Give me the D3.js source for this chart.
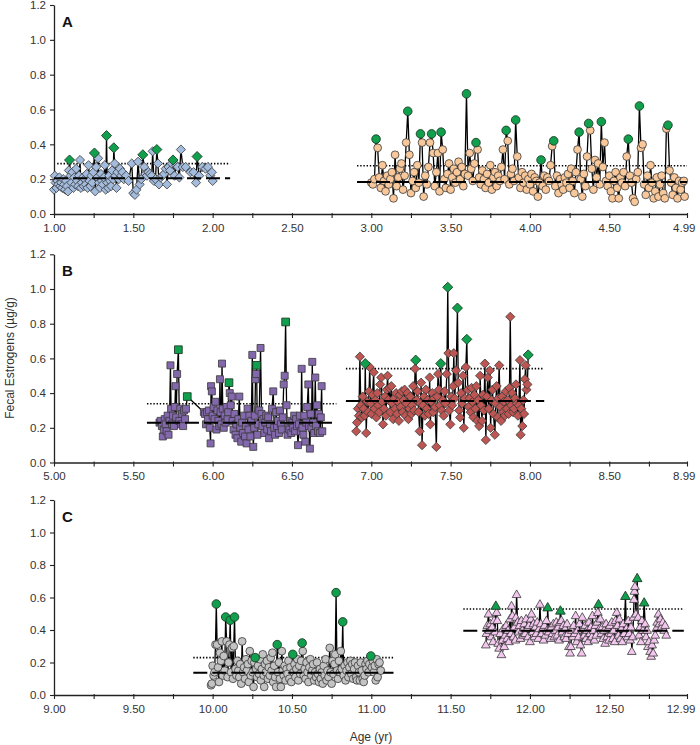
<!DOCTYPE html>
<html><head><meta charset="utf-8">
<script src="https://cdn.jsdelivr.net/npm/d3@7"></script>
<style>body{margin:0;background:#fff}text{font-family:"Liberation Sans",Arial,sans-serif}</style>
</head><body><svg id="chart" width="700" height="745"></svg>
<script>
// ---------- DATA ----------
const yTickValues = [0, 0.2, 0.4, 0.6, 0.8, 1.0, 1.2];
const panelLabels = ["A", "B", "C"];
const xStartA = 1.00, xStartB = 5.00, xStartC = 9.00;
const xTickLabelsA = ["1.00","1.50","2.00","2.50","3.00","3.50","4.00","4.50","4.99"];
const xTickLabelsB = ["5.00","5.50","6.00","6.50","7.00","7.50","8.00","8.50","8.99"];
const xTickLabelsC = ["9.00","9.50","10.00","10.50","11.00","11.50","12.00","12.50","12.99"];
const yTitle = "Fecal Estrogens (\u00b5g/g)";
const xTitle = "Age (yr)";

// [age, value, peak(1 = green)]
const seriesA1 = [
[1.000,0.14],[1.005,0.22],[1.010,0.18],[1.016,0.15],[1.022,0.19],[1.028,0.17],[1.034,0.21],[1.040,0.16],[1.046,0.18],[1.052,0.15],
[1.058,0.20],[1.064,0.17],[1.070,0.14],[1.076,0.19],[1.082,0.16],[1.088,0.13],[1.094,0.25],[1.098,0.31,1],[1.104,0.22],[1.110,0.18],
[1.116,0.24],[1.122,0.15],[1.128,0.21],[1.134,0.17],[1.140,0.26],[1.146,0.19],[1.152,0.16],[1.158,0.22],[1.164,0.31],[1.170,0.15],
[1.176,0.18],[1.182,0.21],[1.188,0.16],[1.194,0.20],[1.200,0.17],[1.206,0.23],[1.212,0.15],[1.218,0.28],[1.224,0.19],[1.230,0.16],
[1.236,0.22],[1.242,0.18],[1.248,0.24],[1.255,0.35,1],[1.260,0.13],[1.266,0.27],[1.272,0.21],[1.278,0.32],[1.284,0.18],[1.290,0.15],
[1.296,0.23],[1.302,0.19],[1.308,0.17],[1.314,0.21],[1.320,0.28],[1.326,0.14],[1.331,0.45,1],[1.336,0.18],[1.342,0.15],[1.348,0.22],
[1.354,0.19],[1.360,0.16],[1.366,0.25],[1.372,0.20],[1.377,0.38,1],[1.382,0.29],[1.388,0.22],[1.394,0.15],[1.400,0.24],[1.408,0.20],
[1.416,0.26],[1.424,0.22],[1.432,0.24],[1.440,0.20],[1.455,0.22],[1.470,0.19],[1.490,0.29],[1.500,0.12],[1.510,0.11],[1.520,0.14],
[1.530,0.30],[1.540,0.17],[1.550,0.20],[1.560,0.34,1],[1.568,0.27],[1.576,0.23],[1.586,0.22],[1.596,0.24],[1.606,0.23],[1.616,0.22],
[1.622,0.36],[1.630,0.19],[1.640,0.20],[1.648,0.37,1],[1.655,0.29],[1.662,0.17],[1.672,0.21],[1.684,0.22],[1.694,0.23],[1.704,0.26],
[1.712,0.17],[1.722,0.27],[1.732,0.25],[1.742,0.29],[1.750,0.31,1],[1.760,0.22],[1.770,0.28],[1.780,0.27],[1.790,0.21],[1.800,0.37],
[1.812,0.27],[1.830,0.27],[1.860,0.24],[1.880,0.24],[1.895,0.18],[1.902,0.33,1],[1.915,0.22],[1.935,0.27],[1.955,0.26],[1.970,0.27],
[1.985,0.22],[1.995,0.24],[2.000,0.19]
];
const seriesA2 = [
[3.00,0.18],[3.01,0.17],[3.02,0.20],[3.03,0.43,1],[3.04,0.38],[3.05,0.21],[3.06,0.15],[3.07,0.28],[3.08,0.19],[3.09,0.13],
[3.10,0.22],[3.11,0.17],[3.12,0.20],[3.13,0.24],[3.14,0.09],[3.15,0.34],[3.16,0.16],[3.17,0.21],[3.18,0.26],[3.19,0.29],
[3.20,0.14],[3.21,0.22],[3.22,0.41],[3.23,0.59,1],[3.24,0.34],[3.25,0.12],[3.26,0.19],[3.27,0.24],[3.28,0.15],[3.29,0.28],
[3.30,0.18],[3.31,0.46,1],[3.32,0.41],[3.33,0.10],[3.34,0.22],[3.35,0.17],[3.36,0.27],[3.37,0.41],[3.38,0.46,1],[3.39,0.35],
[3.40,0.16],[3.41,0.24],[3.42,0.35],[3.43,0.13],[3.44,0.47,1],[3.45,0.37],[3.46,0.20],[3.47,0.15],[3.48,0.23],[3.49,0.29],
[3.50,0.14],[3.51,0.21],[3.52,0.26],[3.53,0.18],[3.54,0.24],[3.55,0.30],[3.56,0.20],[3.57,0.27],[3.58,0.16],[3.59,0.23],
[3.60,0.69,1],[3.61,0.22],[3.62,0.35],[3.63,0.26],[3.64,0.19],[3.65,0.29],[3.66,0.41,1],[3.67,0.37],[3.68,0.21],[3.69,0.17],
[3.70,0.25],[3.71,0.20],[3.72,0.15],[3.73,0.23],[3.74,0.18],[3.75,0.28],[3.76,0.14],[3.77,0.21],[3.78,0.24],[3.79,0.16],
[3.80,0.22],[3.81,0.19],[3.82,0.27],[3.83,0.37],[3.84,0.20],[3.85,0.48,1],[3.86,0.42],[3.87,0.17],[3.88,0.23],[3.89,0.26],
[3.90,0.19],[3.91,0.54,1],[3.92,0.33],[3.93,0.21],[3.94,0.15],[3.95,0.24],[3.96,0.18],[3.97,0.22],[3.98,0.14],[3.99,0.20],
[4.00,0.17],[4.01,0.23],[4.02,0.13],[4.03,0.21],[4.04,0.19],[4.05,0.10],[4.06,0.18],[4.07,0.31,1],[4.08,0.16],[4.09,0.22],
[4.10,0.14],[4.11,0.21],[4.12,0.19],[4.13,0.28],[4.14,0.39],[4.15,0.42,1],[4.16,0.16],[4.17,0.22],[4.18,0.12],[4.19,0.20],
[4.20,0.17],[4.21,0.14],[4.22,0.21],[4.23,0.18],[4.24,0.23],[4.25,0.15],[4.26,0.26],[4.27,0.19],[4.28,0.12],[4.29,0.24],
[4.30,0.37],[4.31,0.47,1],[4.32,0.20],[4.33,0.10],[4.34,0.23],[4.35,0.16],[4.36,0.33],[4.37,0.52,1],[4.38,0.48],[4.39,0.26],
[4.40,0.14],[4.41,0.31],[4.42,0.21],[4.43,0.29],[4.44,0.17],[4.45,0.53,1],[4.46,0.27],[4.47,0.41],[4.48,0.19],[4.49,0.16],
[4.50,0.22],[4.51,0.13],[4.52,0.09],[4.53,0.19],[4.54,0.24],[4.55,0.15],[4.56,0.09],[4.57,0.21],[4.58,0.18],[4.59,0.24],
[4.60,0.16],[4.61,0.33],[4.62,0.43,1],[4.63,0.22],[4.64,0.18],[4.65,0.09],[4.66,0.07],[4.67,0.20],[4.68,0.24],[4.69,0.62,1],
[4.70,0.38],[4.71,0.40],[4.72,0.17],[4.73,0.11],[4.74,0.22],[4.75,0.15],[4.76,0.28],[4.77,0.18],[4.78,0.09],[4.79,0.13],
[4.80,0.21],[4.81,0.10],[4.82,0.17],[4.83,0.22],[4.84,0.12],[4.85,0.09],[4.86,0.49],[4.87,0.51,1],[4.88,0.25],[4.89,0.18],
[4.90,0.11],[4.91,0.21],[4.92,0.15],[4.93,0.09],[4.94,0.19],[4.95,0.14],[4.96,0.18],[4.97,0.19],[4.975,0.10]
];
const seriesB1 = [
[5.665,0.23],[5.672,0.24],[5.680,0.21],[5.686,0.15],[5.692,0.19],[5.698,0.25],[5.704,0.22],[5.710,0.18],[5.716,0.27],[5.722,0.16],
[5.728,0.24],[5.734,0.56],[5.738,0.31],[5.744,0.22],[5.750,0.27],[5.756,0.21],[5.762,0.32],[5.766,0.44],[5.770,0.26],[5.776,0.51],
[5.784,0.65,1],[5.790,0.24],[5.796,0.31],[5.802,0.22],[5.808,0.28],[5.814,0.21],[5.820,0.30],[5.826,0.25],[5.832,0.31],[5.840,0.38,1],
[5.945,0.29],[5.952,0.28],[5.958,0.22],[5.964,0.29],[5.970,0.25],[5.976,0.30],[5.982,0.20],[5.987,0.11],[5.990,0.44],[5.995,0.41],
[6.000,0.27],[6.006,0.32],[6.012,0.25],[6.018,0.35],[6.024,0.19],[6.030,0.30],[6.036,0.24],[6.042,0.21],[6.046,0.48],[6.050,0.29],
[6.055,0.22],[6.059,0.57],[6.064,0.31],[6.070,0.20],[6.076,0.27],[6.082,0.23],[6.088,0.32],[6.094,0.25],[6.098,0.29],[6.103,0.46,1],
[6.108,0.40],[6.114,0.33],[6.120,0.38],[6.126,0.24],[6.132,0.19],[6.138,0.28],[6.144,0.16],[6.150,0.22],[6.156,0.14],[6.162,0.25],
[6.168,0.38],[6.174,0.20],[6.180,0.12],[6.186,0.23],[6.192,0.17],[6.198,0.27],[6.204,0.15],[6.210,0.21],[6.214,0.11],[6.220,0.31],
[6.226,0.19],[6.232,0.27],[6.238,0.15],[6.244,0.24],[6.250,0.62],[6.256,0.09],[6.262,0.20],[6.266,0.27],[6.270,0.48],[6.274,0.51],
[6.277,0.56,1],[6.282,0.16],[6.288,0.22],[6.294,0.30],[6.302,0.66],[6.308,0.28],[6.314,0.21],[6.320,0.25],[6.326,0.17],[6.332,0.23],
[6.338,0.27],[6.344,0.19],[6.350,0.26],[6.356,0.14],[6.362,0.22],[6.368,0.18],[6.374,0.31],[6.382,0.41],[6.388,0.20],[6.394,0.16],
[6.400,0.29],[6.406,0.21],[6.412,0.24],[6.418,0.17],[6.424,0.30],[6.430,0.22],[6.436,0.19],[6.442,0.26],[6.448,0.45],[6.454,0.50],
[6.460,0.81,1],[6.466,0.33],[6.472,0.16],[6.478,0.21],[6.484,0.19],[6.490,0.24],[6.496,0.17],[6.502,0.23],[6.508,0.20],[6.514,0.27],
[6.520,0.18],[6.526,0.25],[6.532,0.21],[6.538,0.10],[6.544,0.22],[6.550,0.27],[6.556,0.18],[6.561,0.54],[6.566,0.20],[6.572,0.16],
[6.578,0.27],[6.584,0.12],[6.590,0.23],[6.596,0.32],[6.603,0.45],[6.608,0.21],[6.613,0.08],[6.618,0.28],[6.623,0.20],[6.628,0.58],
[6.634,0.23],[6.640,0.17],[6.647,0.49],[6.652,0.21],[6.658,0.33],[6.664,0.18],[6.670,0.28],[6.676,0.17],[6.682,0.26],[6.687,0.44],
[6.691,0.18]
];
const seriesB2 = [
[6.905,0.18],[6.910,0.23],[6.916,0.31],[6.922,0.27],[6.928,0.61],[6.934,0.33],[6.940,0.26],[6.946,0.38],[6.952,0.31],[6.958,0.27],
[6.962,0.57,1],[6.968,0.17],[6.974,0.35],[6.980,0.29],[6.986,0.41],[6.990,0.55],[6.996,0.34],[7.002,0.28],[7.008,0.39],[7.015,0.52],
[7.020,0.31],[7.026,0.36],[7.032,0.26],[7.038,0.40],[7.044,0.33],[7.050,0.29],[7.056,0.45],[7.063,0.49],[7.068,0.35],[7.074,0.22],
[7.080,0.31],[7.086,0.38],[7.092,0.27],[7.098,0.42],[7.103,0.50],[7.108,0.36],[7.114,0.43],[7.120,0.29],[7.126,0.44],[7.132,0.34],
[7.138,0.25],[7.144,0.37],[7.150,0.31],[7.156,0.40],[7.162,0.28],[7.168,0.35],[7.174,0.24],[7.180,0.39],[7.186,0.32],[7.192,0.41],
[7.198,0.29],[7.204,0.36],[7.210,0.42],[7.216,0.27],[7.222,0.34],[7.228,0.40],[7.234,0.25],[7.240,0.31],[7.246,0.38],[7.252,0.28],
[7.258,0.33],[7.264,0.44],[7.270,0.30],[7.276,0.54],[7.280,0.59,1],[7.286,0.36],[7.292,0.41],[7.298,0.29],[7.305,0.18],[7.310,0.34],
[7.314,0.46],[7.320,0.10],[7.326,0.33],[7.332,0.38],[7.338,0.27],[7.344,0.42],[7.350,0.31],[7.356,0.36],[7.362,0.28],[7.368,0.49],
[7.372,0.22],[7.378,0.35],[7.384,0.40],[7.390,0.29],[7.396,0.37],[7.402,0.32],[7.410,0.09],[7.416,0.38],[7.421,0.51],[7.426,0.42],
[7.432,0.33],[7.438,0.57,1],[7.444,0.30],[7.450,0.36],[7.456,0.27],[7.462,0.41],[7.468,0.34],[7.476,0.51],[7.482,1.01,1],[7.486,0.63],
[7.492,0.30],[7.498,0.22],[7.504,0.38],[7.510,0.33],[7.516,0.44],[7.520,0.63],[7.526,0.37],[7.535,0.53],[7.543,0.89,1],[7.548,0.46],
[7.554,0.30],[7.560,0.26],[7.566,0.40],[7.572,0.34],[7.579,0.50],[7.583,0.20],[7.590,0.37],[7.596,0.55],[7.602,0.71,1],[7.608,0.42],
[7.614,0.32],[7.620,0.37],[7.626,0.29],[7.632,0.43],[7.638,0.35],[7.644,0.26],[7.650,0.39],[7.656,0.31],[7.662,0.44],[7.668,0.24],
[7.674,0.36],[7.680,0.21],[7.686,0.50],[7.692,0.33],[7.698,0.24],[7.704,0.39],[7.710,0.30],[7.716,0.57],[7.722,0.13],[7.728,0.38],
[7.734,0.49],[7.740,0.31],[7.747,0.53],[7.752,0.20],[7.758,0.36],[7.764,0.42],[7.770,0.28],[7.779,0.16],[7.784,0.34],[7.790,0.44],
[7.796,0.26],[7.800,0.37],[7.806,0.56],[7.812,0.32],[7.818,0.24],[7.824,0.38],[7.830,0.29],[7.836,0.35],[7.842,0.27],[7.848,0.41],
[7.854,0.31],[7.860,0.36],[7.866,0.28],[7.871,0.43],[7.876,0.84],[7.882,0.33],[7.888,0.40],[7.894,0.29],[7.900,0.31],[7.906,0.37],
[7.912,0.45],[7.918,0.34],[7.924,0.27],[7.930,0.33],[7.937,0.59],[7.941,0.16],[7.946,0.31],[7.952,0.21],[7.958,0.36],[7.963,0.28],
[7.968,0.48],[7.973,0.56],[7.978,0.42],[7.984,0.45],[7.989,0.62,1]
];
const seriesC1 = [
[9.990,0.06],[9.995,0.07],[10.000,0.18],[10.006,0.12],[10.012,0.14],[10.018,0.31],[10.023,0.56,1],[10.028,0.31],[10.034,0.17],[10.040,0.08],
[10.046,0.26],[10.052,0.21],[10.058,0.33],[10.064,0.12],[10.070,0.24],[10.076,0.15],[10.082,0.48,1],[10.088,0.33],[10.094,0.11],[10.100,0.20],
[10.106,0.31],[10.111,0.46,1],[10.116,0.14],[10.122,0.29],[10.128,0.10],[10.133,0.30],[10.138,0.48,1],[10.144,0.16],[10.150,0.12],[10.156,0.21],
[10.162,0.15],[10.168,0.11],[10.174,0.19],[10.180,0.07],[10.186,0.33],[10.192,0.14],[10.198,0.17],[10.204,0.10],[10.210,0.22],[10.216,0.15],
[10.222,0.19],[10.228,0.08],[10.234,0.27],[10.240,0.12],[10.246,0.21],[10.252,0.14],[10.258,0.05],[10.263,0.20],[10.268,0.23,1],[10.274,0.16],
[10.280,0.11],[10.286,0.18],[10.292,0.13],[10.298,0.22],[10.304,0.09],[10.310,0.16],[10.316,0.25],[10.322,0.12],[10.325,0.05],[10.330,0.19],
[10.336,0.14],[10.342,0.21],[10.348,0.10],[10.354,0.17],[10.360,0.12],[10.366,0.23],[10.372,0.15],[10.377,0.26],[10.382,0.08],[10.388,0.18],
[10.394,0.11],[10.400,0.05],[10.407,0.31,1],[10.412,0.14],[10.418,0.20],[10.424,0.10],[10.430,0.05],[10.436,0.27],[10.442,0.15],[10.448,0.12],
[10.454,0.18],[10.460,0.09],[10.466,0.16],[10.472,0.13],[10.478,0.21],[10.484,0.10],[10.490,0.17],[10.496,0.08],[10.505,0.25,1],[10.510,0.14],
[10.516,0.19],[10.522,0.11],[10.528,0.16],[10.534,0.22],[10.540,0.09],[10.546,0.18],[10.552,0.13],[10.558,0.21],[10.564,0.32,1],[10.568,0.27],
[10.574,0.12],[10.580,0.16],[10.586,0.10],[10.592,0.20],[10.598,0.14],[10.604,0.08],[10.610,0.17],[10.616,0.22],[10.622,0.12],[10.628,0.15],
[10.634,0.19],[10.640,0.09],[10.646,0.14],[10.652,0.11],[10.658,0.20],[10.664,0.13],[10.670,0.08],[10.676,0.16],[10.682,0.10],[10.688,0.14],
[10.694,0.07],[10.700,0.18],[10.706,0.12],[10.712,0.22],[10.718,0.09],[10.724,0.15],[10.730,0.11],[10.738,0.29],[10.744,0.14],[10.750,0.07],
[10.756,0.21],[10.762,0.13],[10.768,0.19],[10.773,0.25],[10.778,0.63,1],[10.784,0.15],[10.790,0.10],[10.796,0.21],[10.802,0.14],[10.808,0.27],
[10.814,0.16],[10.820,0.45,1],[10.826,0.12],[10.832,0.18],[10.838,0.09],[10.844,0.15],[10.850,0.20],[10.856,0.11],[10.862,0.17],[10.868,0.21],
[10.874,0.13],[10.880,0.19],[10.886,0.10],[10.892,0.16],[10.898,0.20],[10.904,0.11],[10.910,0.09],[10.916,0.18],[10.922,0.14],[10.928,0.09],
[10.934,0.20],[10.940,0.15],[10.946,0.10],[10.952,0.08],[10.958,0.12],[10.964,0.19],[10.970,0.16],[10.976,0.21],[10.982,0.14],[10.988,0.19],
[10.997,0.24,1],[11.004,0.17],[11.010,0.21],[11.016,0.14],[11.022,0.18],[11.028,0.09],[11.034,0.22],[11.040,0.11],[11.046,0.19],[11.052,0.20],
[11.060,0.15]
];
const seriesC2 = [
[11.722,0.31],[11.726,0.38],[11.732,0.43],[11.739,0.50],[11.745,0.40],[11.750,0.44],[11.756,0.36],[11.762,0.42],[11.768,0.33],[11.774,0.46],
[11.780,0.39],[11.785,0.55,1],[11.790,0.51],[11.794,0.46],[11.800,0.32],[11.806,0.29],[11.812,0.38],[11.820,0.25],[11.826,0.34],[11.832,0.41],
[11.838,0.30],[11.844,0.37],[11.850,0.43],[11.856,0.35],[11.862,0.40],[11.868,0.33],[11.874,0.47],[11.880,0.38],[11.884,0.55],[11.890,0.49],
[11.896,0.36],[11.902,0.42],[11.908,0.34],[11.912,0.48],[11.916,0.62],[11.922,0.45],[11.928,0.39],[11.934,0.43],[11.940,0.35],[11.946,0.46],
[11.952,0.40],[11.958,0.37],[11.964,0.44],[11.970,0.38],[11.976,0.47],[11.982,0.41],[11.988,0.36],[11.994,0.43],[12.000,0.33],[12.006,0.47],
[12.010,0.50],[12.016,0.39],[12.022,0.44],[12.028,0.36],[12.034,0.42],[12.040,0.38],[12.046,0.45],[12.052,0.35],[12.058,0.41],[12.063,0.56],
[12.068,0.44],[12.074,0.38],[12.080,0.41],[12.086,0.34],[12.092,0.43],[12.098,0.37],[12.104,0.46],[12.108,0.40],[12.112,0.54,1],[12.118,0.39],
[12.124,0.41],[12.130,0.35],[12.136,0.42],[12.142,0.38],[12.148,0.44],[12.154,0.36],[12.160,0.40],[12.166,0.45],[12.172,0.37],[12.178,0.42],
[12.184,0.34],[12.188,0.45],[12.192,0.52,1],[12.198,0.46],[12.204,0.39],[12.210,0.43],[12.216,0.36],[12.222,0.41],[12.228,0.35],[12.234,0.44],
[12.240,0.38],[12.246,0.30],[12.253,0.26],[12.258,0.30],[12.264,0.40],[12.270,0.36],[12.276,0.43],[12.282,0.38],[12.288,0.49],[12.294,0.33],
[12.300,0.40],[12.306,0.36],[12.312,0.44],[12.318,0.31],[12.326,0.26],[12.330,0.48],[12.336,0.41],[12.342,0.37],[12.348,0.43],[12.354,0.35],
[12.360,0.40],[12.366,0.33],[12.372,0.45],[12.378,0.38],[12.384,0.42],[12.390,0.36],[12.394,0.49],[12.400,0.40],[12.406,0.34],[12.412,0.43],
[12.418,0.37],[12.424,0.45],[12.428,0.51],[12.432,0.56,1],[12.438,0.41],[12.444,0.47],[12.450,0.38],[12.456,0.42],[12.462,0.35],[12.468,0.40],
[12.474,0.32],[12.480,0.44],[12.486,0.36],[12.492,0.41],[12.498,0.34],[12.504,0.43],[12.510,0.38],[12.516,0.45],[12.522,0.35],[12.528,0.40],
[12.534,0.33],[12.540,0.46],[12.547,0.51],[12.552,0.43],[12.558,0.37],[12.564,0.47],[12.570,0.35],[12.576,0.41],[12.582,0.33],[12.588,0.44],
[12.594,0.38],[12.602,0.61,1],[12.608,0.41],[12.614,0.36],[12.620,0.46],[12.626,0.38],[12.632,0.34],[12.637,0.42],[12.642,0.27],[12.648,0.36],
[12.653,0.48],[12.656,0.59],[12.659,0.64],[12.662,0.67],[12.668,0.50],[12.676,0.72,1],[12.682,0.48],[12.688,0.37],[12.694,0.42],[12.700,0.33],
[12.706,0.46],[12.712,0.40],[12.720,0.57,1],[12.726,0.44],[12.732,0.36],[12.738,0.40],[12.744,0.30],[12.750,0.33],[12.758,0.27],[12.764,0.24],
[12.770,0.31],[12.777,0.26],[12.783,0.34],[12.790,0.37],[12.796,0.41],[12.802,0.45],[12.810,0.50],[12.816,0.44],[12.822,0.47],[12.830,0.42],
[12.838,0.45],[12.846,0.40],[12.852,0.43],[12.859,0.37]
];
// baseline (dashed) and threshold (dotted): [value, fromAge, toAge]
const baselineA1 = [0.205, 1.00, 2.11],  thresholdA1 = [0.289, 1.02, 2.11];
const baselineA2 = [0.184, 2.91, 4.99],  thresholdA2 = [0.277, 2.91, 4.99];
const baselineB1 = [0.229, 5.586, 6.76], thresholdB1 = [0.339, 5.586, 6.78];
const baselineB2 = [0.354, 6.84, 8.09],  thresholdB2 = [0.541, 6.84, 8.08];
const baselineC1 = [0.137, 9.878, 11.14], thresholdC1 = [0.230, 9.878, 11.14];
const baselineC2 = [0.396, 11.58, 12.97], thresholdC2 = [0.529, 11.58, 12.97];

// ---------- DRAW ----------
const svg = d3.select("#chart");
const green = "#109f4c";
const panels = [
  {label: panelLabels[0], x0: xStartA, labels: xTickLabelsA, top: 5, bottom: 214,
   series: [{data: seriesA1, shape: "diamond", fill: "#a3bbdd", base: baselineA1, thr: thresholdA1},
            {data: seriesA2, shape: "circle", fill: "#f9c89a", base: baselineA2, thr: thresholdA2}]},
  {label: panelLabels[1], x0: xStartB, labels: xTickLabelsB, top: 254.3, bottom: 462.5,
   series: [{data: seriesB1, shape: "square", fill: "#8468ad", base: baselineB1, thr: thresholdB1},
            {data: seriesB2, shape: "diamond", fill: "#bd5652", base: baselineB2, thr: thresholdB2}]},
  {label: panelLabels[2], x0: xStartC, labels: xTickLabelsC, top: 500, bottom: 695,
   series: [{data: seriesC1, shape: "circle", fill: "#c3c3c3", base: baselineC1, thr: thresholdC1},
            {data: seriesC2, shape: "triangle", fill: "#f2c6ee", base: baselineC2, thr: thresholdC2}]}
];

function markerPath(shape) {
  switch (shape) {
    case "diamond": return "M0,-4.6L4.6,0L0,4.6L-4.6,0Z";
    case "square": return "M-3.5,-3.5H3.5V3.5H-3.5Z";
    case "triangle": return "M0,-4.3L4.4,3.3L-4.4,3.3Z";
    default: return "M3.9,0A3.9,3.9 0 1,1 -3.9,0A3.9,3.9 0 1,1 3.9,0Z";
  }
}

panels.forEach(p => {
  const x = d3.scaleLinear().domain([p.x0, p.x0 + 3.99]).range([54, 687]);
  const y = d3.scaleLinear().domain([0, 1.2]).range([p.bottom, p.top]);
  const g = svg.append("g");

  // axes
  const tickVals = d3.range(0, 16).map(i => p.x0 + i * 0.25).concat([p.x0 + 3.99]);
  const lastIdx = tickVals.length - 1;
  const xAxis = d3.axisBottom(x).tickValues(tickVals).tickSize(4).tickSizeOuter(0)
    .tickFormat((v, i) => (i === lastIdx ? p.labels[8] : (i % 2 === 0 ? p.labels[i / 2] : "")));
  const gx = g.append("g").attr("transform", `translate(0,${p.bottom})`).call(xAxis);
  const yAxis = d3.axisLeft(y).tickValues(yTickValues).tickSize(4).tickSizeOuter(0).tickPadding(4)
    .tickFormat(d3.format(".1f"));
  const gy = g.append("g").attr("transform", "translate(54,0)").call(yAxis);
  [gx, gy].forEach(a => {
    a.select(".domain").attr("stroke", "#222").attr("stroke-width", 1.3);
    a.selectAll(".tick line").attr("stroke", "#222").attr("stroke-width", 1.1);
    a.selectAll("text").attr("font-size", 11.5).attr("fill", "#333")
      .attr("font-family", "'Liberation Sans', Arial, sans-serif");
  });
  gx.selectAll(".tick line").attr("y1", -1);
  gx.selectAll("text").attr("dy", "0.95em");
  // keep the last (end-of-range) label inside the frame
  gx.selectAll(".tick").filter((d, i) => i === lastIdx).select("text")
    .attr("text-anchor", "end").attr("x", 8);

  // panel label
  g.append("text").attr("x", 62).attr("y", p.top + 22).text(p.label)
    .attr("font-size", 15).attr("font-weight", "bold").attr("fill", "#111");

  const line = d3.line().x(d => x(d[0])).y(d => y(d[1]));

  p.series.forEach(s => {
    g.append("line").attr("x1", x(s.thr[1])).attr("x2", x(s.thr[2]))
      .attr("y1", y(s.thr[0])).attr("y2", y(s.thr[0]))
      .attr("stroke", "#000").attr("stroke-width", 1.6).attr("stroke-dasharray", "1.4,1.8");
  });
  p.series.forEach(s => {
    g.append("path").datum(s.data).attr("d", line).attr("fill", "none")
      .attr("stroke", "#000").attr("stroke-width", 1.3).attr("stroke-linejoin", "round");
    g.selectAll(null).data(s.data.filter(d => !d[2])).enter().append("path")
      .attr("d", markerPath(s.shape))
      .attr("transform", d => `translate(${x(d[0])},${y(d[1])})`)
      .attr("fill", s.fill).attr("stroke", "#3a3a3a").attr("stroke-width", 0.8);
    g.selectAll(null).data(s.data.filter(d => d[2])).enter().append("path")
      .attr("d", markerPath(s.shape))
      .attr("transform", d => `translate(${x(d[0])},${y(d[1])}) scale(1.1)`)
      .attr("fill", green).attr("stroke", "#1f3a26").attr("stroke-width", 0.8);
  });
  p.series.forEach(s => {
    g.append("line").attr("x1", x(s.base[1])).attr("x2", x(s.base[2]))
      .attr("y1", y(s.base[0])).attr("y2", y(s.base[0]))
      .attr("stroke", "#000").attr("stroke-width", 2).attr("stroke-dasharray", "14,5");
  });
});

// axis titles
svg.append("text").attr("transform", "translate(14,358) rotate(-90)").attr("text-anchor", "middle")
  .attr("font-size", 12).attr("fill", "#333").text(yTitle);
svg.append("text").attr("x", 371).attr("y", 741).attr("text-anchor", "middle")
  .attr("font-size", 12).attr("fill", "#333").text(xTitle);
</script></body></html>
